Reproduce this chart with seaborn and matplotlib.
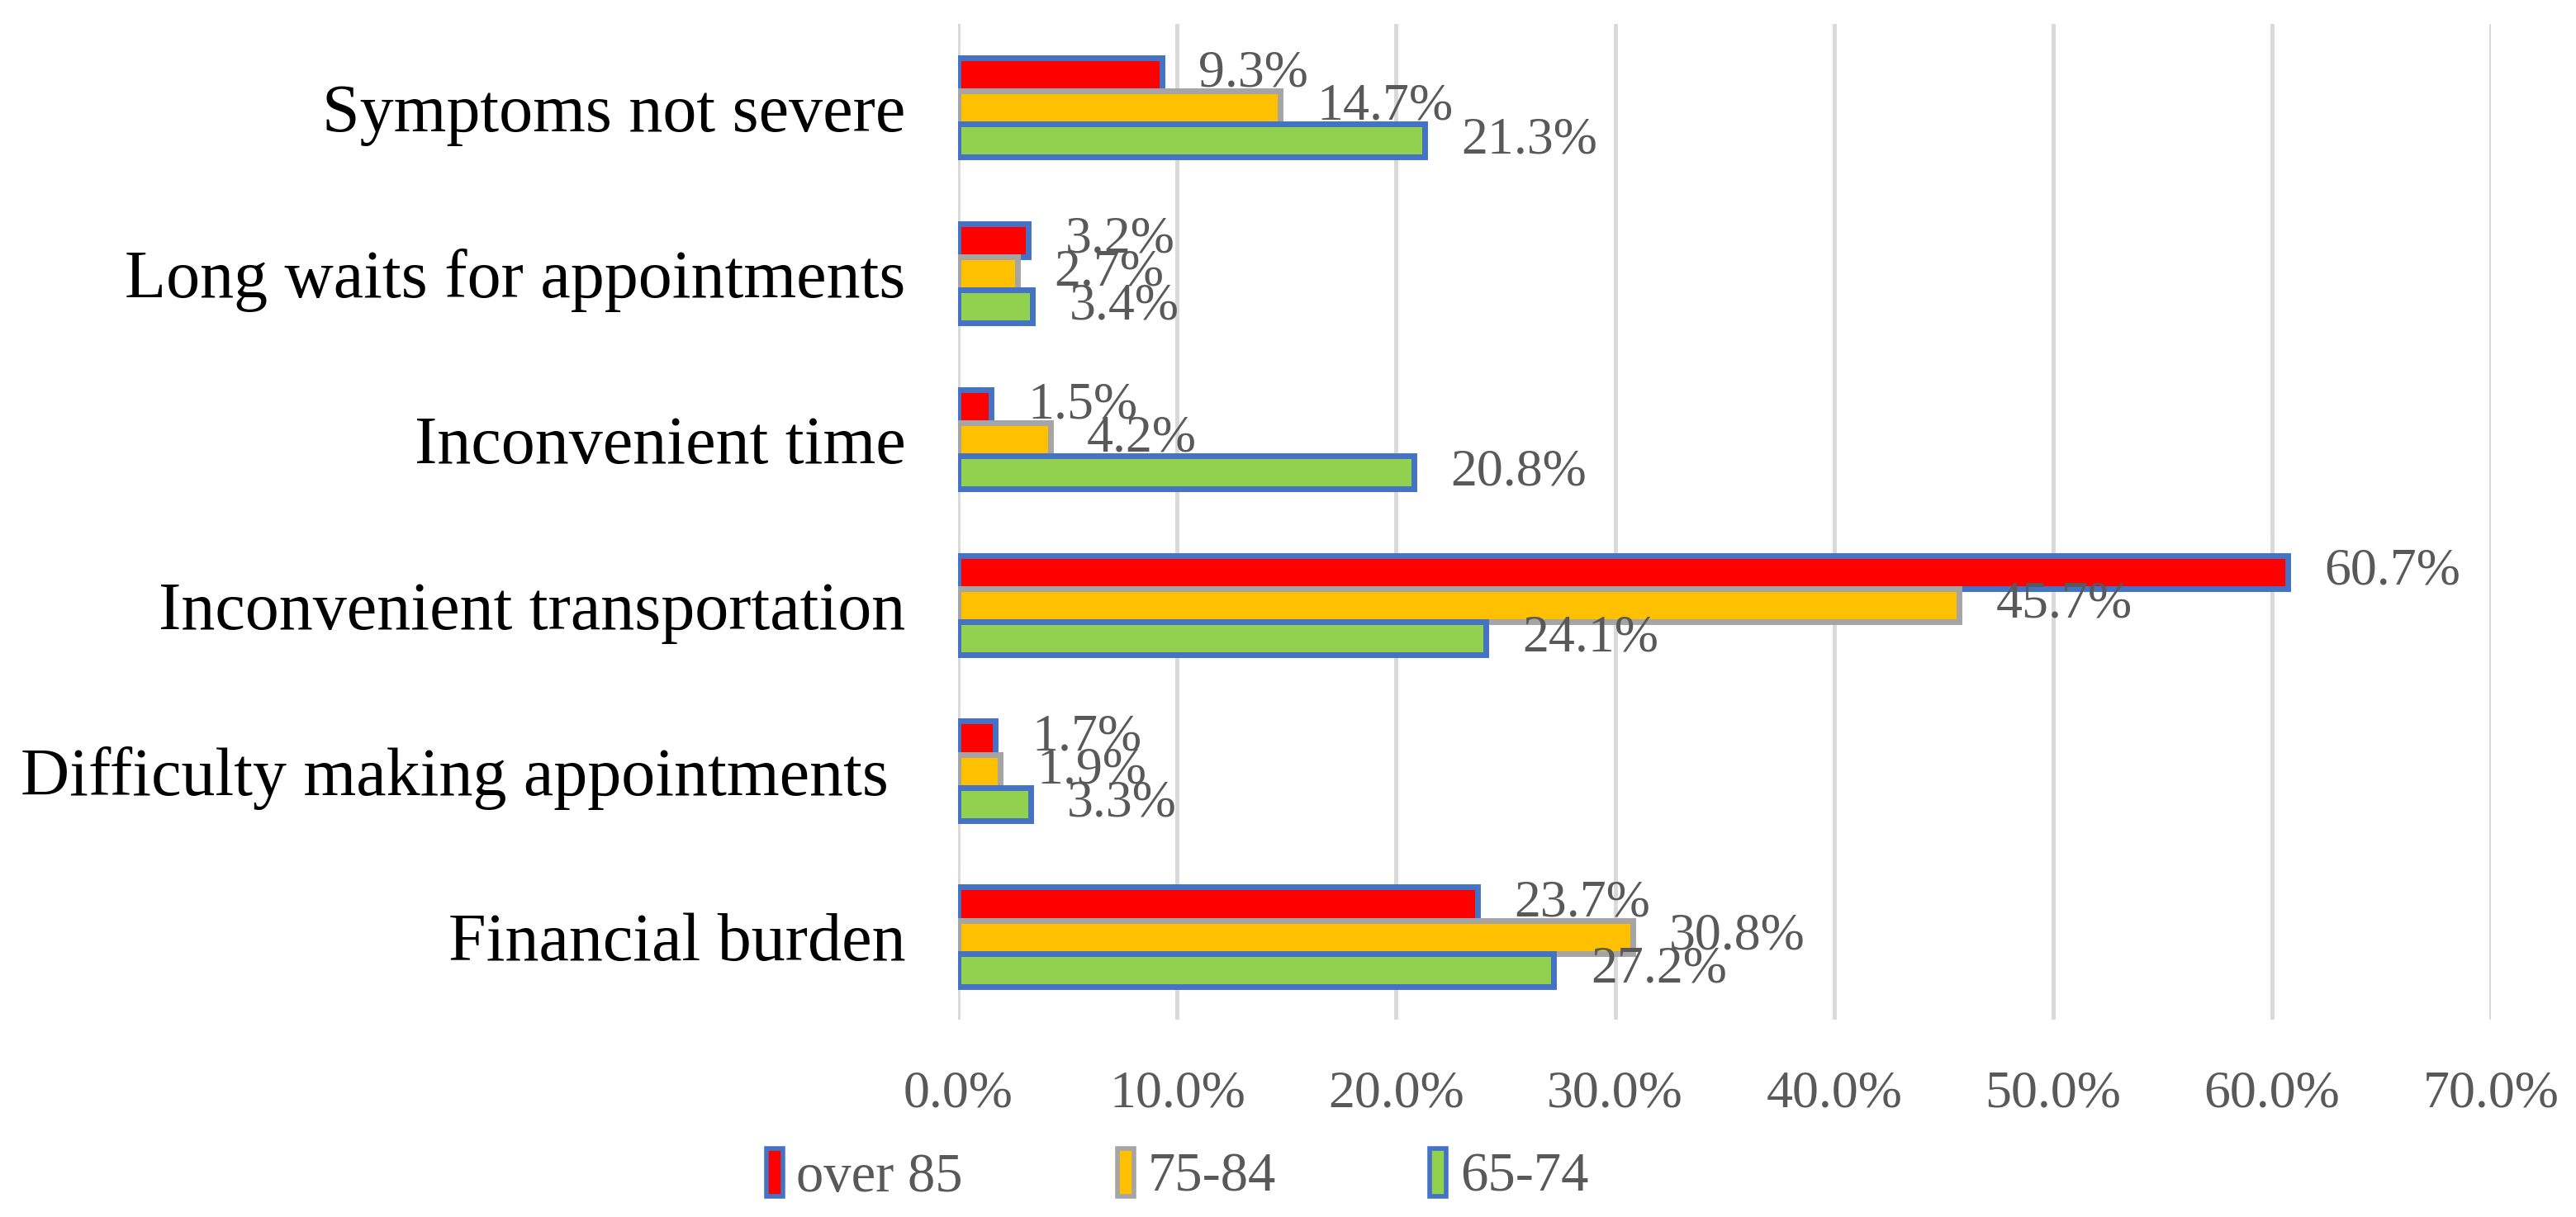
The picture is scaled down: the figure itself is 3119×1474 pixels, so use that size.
import numpy as np
import pandas as pd
import matplotlib
matplotlib.use("Agg")
import matplotlib.pyplot as plt
import matplotlib.ticker as mticker
from matplotlib.patches import Patch
import seaborn as sns

# data (percent)
categories = ["Symptoms not severe", "Long waits for appointments", "Inconvenient time",
              "Inconvenient transportation", "Difficulty making appointments ", "Financial burden"]
groups = ["over 85", "75-84", "65-74"]
over_85 = [9.3, 3.2, 1.5, 60.7, 1.7, 23.7]
age_75_84 = [14.7, 2.7, 4.2, 45.7, 1.9, 30.8]
age_65_74 = [21.3, 3.4, 20.8, 24.1, 3.3, 27.2]
x_ticks = [0, 10, 20, 30, 40, 50, 60, 70]

fill_colors = ["#FF0000", "#FFC000", "#92D050"]
edge_colors = ["#4472C4", "#A5A5A5", "#4472C4"]

df = pd.DataFrame({
    "category": categories * 3,
    "group": [groups[0]] * 6 + [groups[1]] * 6 + [groups[2]] * 6,
    "value": over_85 + age_75_84 + age_65_74,
})

sns.set_theme(style="white")
plt.rcParams["font.family"] = ["Liberation Serif", "DejaVu Serif"]

fig, ax = plt.subplots(figsize=(31.19, 14.74), dpi=100)
fig.subplots_adjust(left=0.372, right=0.967, top=0.980, bottom=0.162)

sns.barplot(data=df, x="value", y="category", hue="group", order=categories,
            hue_order=groups, palette=fill_colors, orient="h", width=0.6,
            gap=0, linewidth=5, saturation=1, legend=False, ax=ax)

for cont, ec in zip(ax.containers, edge_colors):
    for bar in cont:
        bar.set_edgecolor(ec)
    ax.bar_label(cont, labels=[f"{b.get_width():.1f}%" for b in cont], padding=32,
                 fontsize=46, color="#595959")

ax.set_xlim(0, 70)
ax.set_xticks(x_ticks)
ax.xaxis.set_major_formatter(mticker.PercentFormatter(decimals=1))
ax.grid(axis="x", color="#D9D9D9", linewidth=3.5)
ax.grid(axis="y", visible=False)
ax.set_axisbelow(True)
for s in ax.spines.values():
    s.set_visible(False)
ax.set_xlabel("")
ax.set_ylabel("")
ax.tick_params(axis="x", length=0, pad=44, labelsize=46, labelcolor="#595959")
ax.tick_params(axis="y", length=0, pad=46, labelsize=59, labelcolor="black")

handles = [Patch(facecolor=fc, edgecolor=ec, linewidth=4) for fc, ec in zip(fill_colors, edge_colors)]
fig.legend(handles, groups, loc="center", bbox_to_anchor=(0.457, 0.034), ncol=3,
           frameon=False, fontsize=48, labelcolor="#595959", handlelength=0.3,
           handleheight=0.95, handletextpad=0.25, columnspacing=2.8)

fig.savefig("out.png", dpi=100)
